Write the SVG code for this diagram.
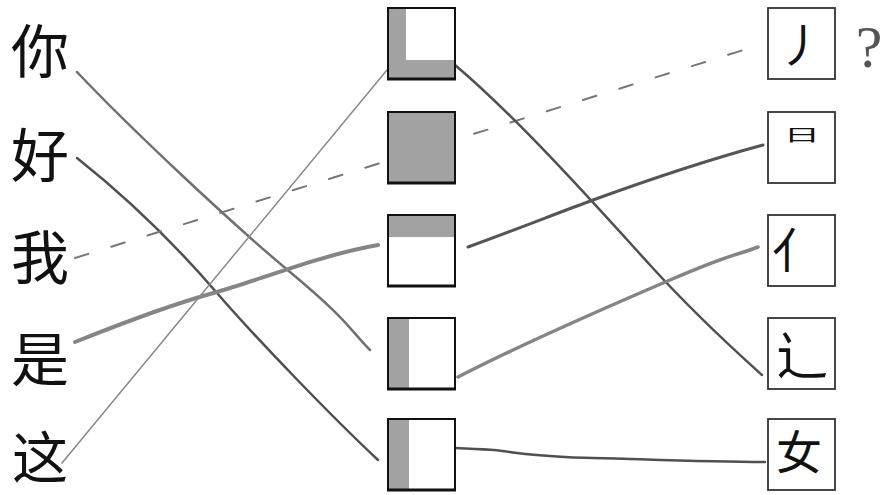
<svg xmlns="http://www.w3.org/2000/svg" width="881" height="495" viewBox="0 0 881 495">
<style>
.ch{font-family:"Noto Sans CJK SC","Noto Sans CJK JP",sans-serif;fill:#111;text-anchor:middle}
.ln{fill:none;stroke-linecap:round;stroke-linejoin:round}
.mid{fill:#fff;stroke:#111;stroke-width:2}
.sh{fill:#a2a2a2}
.bot{stroke:#111;stroke-width:3}
.rb{fill:#fff;stroke:#333;stroke-width:1.8}
</style>
<rect width="881" height="495" fill="#fff"/>
<g id="connectors">
<path id="c-ni" class="ln" d="M77,72 C130,128 230,222 290,272 S350,330 370,350" stroke="#707070" stroke-width="2.5"/>
<path id="c-hao" class="ln" d="M77,158 C130,200 180,250 217,293 S330,415 378,460" stroke="#505050" stroke-width="2.5"/>
<path id="c-wo" class="ln" d="M75,258 L750,48" stroke="#777" stroke-width="2" stroke-dasharray="14 24"/>
<path id="c-shi" class="ln" d="M75,342 C130,320 180,302 217,292 S320,255 378,245" stroke="#858585" stroke-width="4"/>
<path id="c-zhe" class="ln" d="M62,463 L387,70" stroke="#888" stroke-width="1.5"/>
<path id="c-b1" class="ln" d="M455,65 C520,120 600,210 650,265 S740,355 762,375" stroke="#505050" stroke-width="2.5"/>
<path id="c-b3" class="ln" d="M468,247 C510,232 560,212 593,200 S700,162 763,145" stroke="#555" stroke-width="3"/>
<path id="c-b4" class="ln" d="M458,377 C520,345 600,310 670,280 S730,258 758,247" stroke="#858585" stroke-width="3.5"/>
<path id="c-b5" class="ln" d="M455,448 C480,449 500,450 510,452 S570,458 593,458 S700,462 765,462" stroke="#505050" stroke-width="2.5"/>
</g>
<g id="left-nodes">
<text id="n-ni" class="ch" x="40" y="73" font-size="58">你</text>
<text id="n-hao" class="ch" x="40" y="177" font-size="58">好</text>
<text id="n-wo" class="ch" x="40" y="279" font-size="58">我</text>
<text id="n-shi" class="ch" x="40" y="381" font-size="58">是</text>
<text id="n-zhe" class="ch" x="40" y="478" font-size="56">这</text>
</g>
<g id="box1">
<rect class="mid" x="388" y="8" width="67" height="71"/>
<path class="sh" d="M389,9 H406 V60 H454 V78 H389 Z"/>
<line class="bot" x1="387" y1="79" x2="456" y2="79"/>
</g>
<g id="box2">
<rect class="mid" x="388" y="112" width="67" height="71"/>
<rect class="sh" x="389" y="113" width="65" height="69"/>
<line class="bot" x1="387" y1="183" x2="456" y2="183"/>
</g>
<g id="box3">
<rect class="mid" x="388" y="215" width="67" height="71"/>
<rect class="sh" x="389" y="216" width="65" height="21"/>
<line class="bot" x1="387" y1="286" x2="456" y2="286"/>
</g>
<g id="box4">
<rect class="mid" x="388" y="318" width="67" height="71"/>
<rect class="sh" x="389" y="319" width="20" height="69"/>
<line class="bot" x1="387" y1="389" x2="456" y2="389"/>
</g>
<g id="box5">
<rect class="mid" x="388" y="419" width="67" height="71"/>
<rect class="sh" x="389" y="420" width="20" height="69"/>
<line class="bot" x1="387" y1="490" x2="456" y2="490"/>
</g>
<g id="r1">
<rect class="rb" x="768" y="8" width="67" height="71"/>
<text class="ch" x="801" y="62" font-size="46">丿</text>
</g>
<g id="r-q">
<text x="869" y="67" font-size="60" font-family="Liberation Serif, serif" fill="#555" text-anchor="middle">?</text>
</g>
<g id="r2">
<rect class="rb" x="768" y="112" width="67" height="71"/>
<text class="ch" transform="translate(802,141) scale(1.15,0.5)" x="0" y="0" font-size="32">日</text>
</g>
<g id="r3">
<rect class="rb" x="768" y="215" width="67" height="71"/>
<text class="ch" x="796" y="268" font-size="48">亻</text>
</g>
<g id="r4">
<rect class="rb" x="768" y="318" width="67" height="71"/>
<text class="ch" x="802" y="375" font-size="52">辶</text>
</g>
<g id="r5">
<rect class="rb" x="768" y="419" width="67" height="71"/>
<text class="ch" x="799" y="469" font-size="46">女</text>
</g>
</svg>
